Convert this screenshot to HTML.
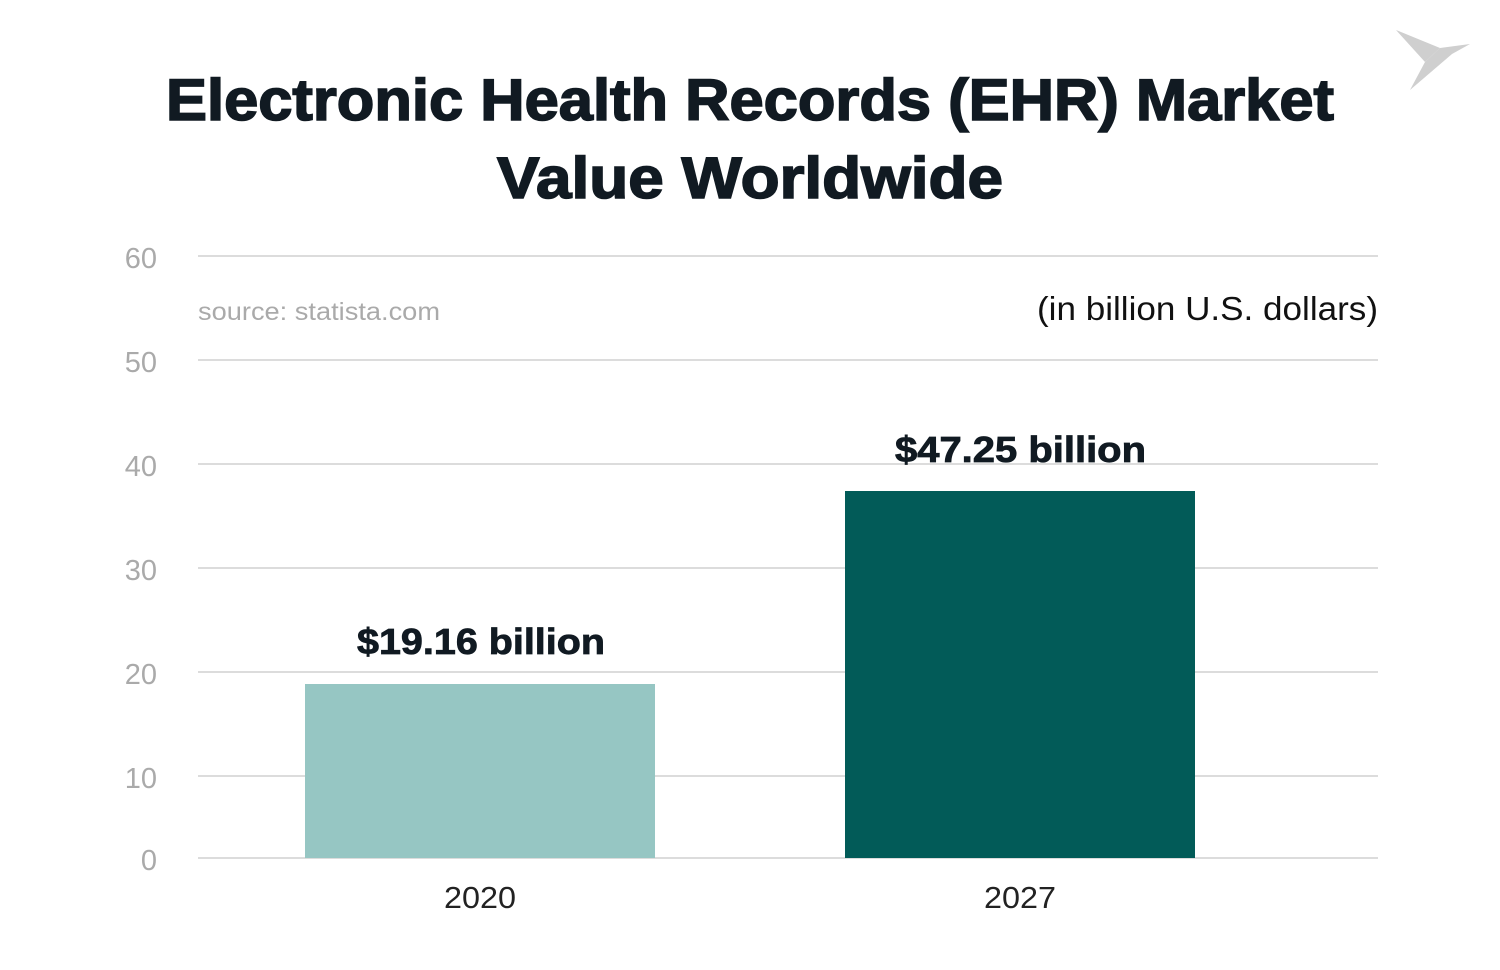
<!DOCTYPE html>
<html><head><meta charset="utf-8"><style>
html,body{margin:0;padding:0;background:#fff;}
body{width:1500px;height:970px;overflow:hidden;position:relative;font-family:"Liberation Sans",sans-serif;}
</style></head><body>
<svg width="1500" height="970" style="position:absolute;left:0;top:0">
<g stroke="#dcdcdc" stroke-width="2">
<line x1="198" y1="256" x2="1378" y2="256"/>
<line x1="198" y1="360" x2="1378" y2="360"/>
<line x1="198" y1="464" x2="1378" y2="464"/>
<line x1="198" y1="568" x2="1378" y2="568"/>
<line x1="198" y1="672" x2="1378" y2="672"/>
<line x1="198" y1="776" x2="1378" y2="776"/>
<line x1="198" y1="858" x2="1378" y2="858"/>
</g>
<rect x="305" y="684" width="350" height="174" fill="#96c6c3"/>
<rect x="845" y="491" width="350" height="367" fill="#025b58"/>
<g fill="#cfcfcf">
<polygon points="1396,30 1440,48 1425,62"/>
<polygon points="1425,62 1440,48 1470,44 1452,54 1410,90"/>
</g>
<g font-family="Liberation Sans, sans-serif">
<g stroke="#111a22" stroke-width="1.6">
<text x="166" y="120" font-size="58" font-weight="bold" fill="#111a22" textLength="1168" lengthAdjust="spacingAndGlyphs">Electronic Health Records (EHR) Market</text>
<text x="497" y="198" font-size="58" font-weight="bold" fill="#111a22" textLength="506" lengthAdjust="spacingAndGlyphs">Value Worldwide</text>
</g>
<g font-size="29" fill="#aaa" text-anchor="end">
<text x="157" y="268">60</text><text x="157" y="372">50</text><text x="157" y="476">40</text>
<text x="157" y="580">30</text><text x="157" y="684">20</text><text x="157" y="788">10</text><text x="157" y="870">0</text>
</g>
<text x="198" y="320" font-size="25" fill="#aaa" textLength="242" lengthAdjust="spacingAndGlyphs">source: statista.com</text>
<text x="1037" y="320" font-size="33" fill="#111" textLength="341" lengthAdjust="spacingAndGlyphs">(in billion U.S. dollars)</text>
<g stroke="#111a22" stroke-width="0.8">
<text x="357" y="654" font-size="36" font-weight="bold" fill="#111a22" textLength="248" lengthAdjust="spacingAndGlyphs">$19.16 billion</text>
<text x="895" y="462" font-size="36" font-weight="bold" fill="#111a22" textLength="251" lengthAdjust="spacingAndGlyphs">$47.25 billion</text>
</g>
<text x="444" y="908" font-size="31" fill="#222" textLength="72" lengthAdjust="spacingAndGlyphs">2020</text>
<text x="984" y="908" font-size="31" fill="#222" textLength="72" lengthAdjust="spacingAndGlyphs">2027</text>
</g>
</svg>
</body></html>
